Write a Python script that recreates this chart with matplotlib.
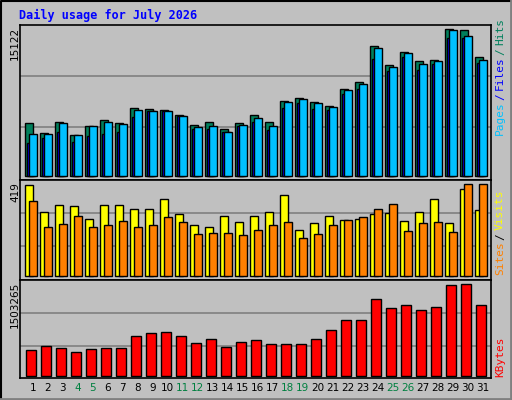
import matplotlib
matplotlib.use("Agg")
import matplotlib.pyplot as plt
from matplotlib.transforms import blended_transform_factory

days = list(range(1, 32))
weekend = [4, 5, 11, 12, 18, 19, 25, 26]
hits = [5432, 4402, 5535, 4195, 5123, 5742, 5432, 6979, 6875, 6772, 6257, 5226, 5535, 4814, 5432, 6257,
        5535, 7700, 8009, 7597, 7185, 8937, 9659, 13370, 11411, 12751, 11823, 11926, 15122, 15019, 12236]
files = [3402, 3917, 4536, 3505, 4123, 4329, 4536, 6051, 6669, 6669, 6154, 4814, 4814, 4505, 5123, 5535,
         4711, 6979, 7494, 6875, 6772, 8422, 8937, 12029, 10792, 12236, 10896, 11514, 14194, 14194, 11617]
pages = [4298, 4298, 5432, 4195, 5123, 5566, 5329, 6772, 6669, 6669, 6154, 5020, 5123, 4505, 5226, 5948,
         5185, 7597, 7906, 7494, 7082, 8834, 9452, 13163, 11205, 12648, 11514, 11823, 15019, 14400, 11926]
sites = [419, 293, 325, 321, 261, 325, 325, 307, 307, 353, 284, 233, 224, 275, 247, 275,
         293, 371, 210, 243, 275, 256, 261, 284, 289, 252, 293, 353, 243, 399, 302]
visits = [344, 224, 238, 275, 224, 233, 252, 224, 233, 270, 247, 192, 196, 196, 187, 210,
          233, 247, 173, 192, 233, 256, 270, 307, 330, 206, 243, 247, 201, 422, 422]
kbytes = [417000, 483000, 450000, 384000, 433000, 450000, 450000, 647000, 697000, 713000, 647000, 532000,
          598000, 466000, 549000, 582000, 516000, 516000, 516000, 598000, 746000, 911000, 911000, 1256000,
          1108000, 1158000, 1075000, 1125000, 1487000, 1503265, 1158000]
title = "Daily usage for July 2026"

BG = "#C0C0C0"
fig = plt.figure(figsize=(5.12, 4.0), dpi=100, facecolor=BG)
W, H = 512, 400

def ax_at(y0, y1):
    ax = fig.add_axes([20 / W, (H - y1) / H, 471 / W, (y1 - y0) / H])
    ax.set_facecolor(BG)
    ax.set_xlim(1 - 5.3 / 15, 1 + 465.7 / 15)
    ax.set_xticks([]); ax.set_yticks([])
    for s in ax.spines.values():
        s.set_color("black"); s.set_linewidth(1.2)
    return ax

kw = dict(align="edge", edgecolor="black", linewidth=1)

a1 = ax_at(25, 180)
s1 = 15122 / 146.7
a1.set_ylim(-4 * s1, 151 * s1)
for g in (49 * s1, 100 * s1):
    a1.axhline(g, color="#808080", lw=1.2, zorder=0)
a1.bar(days, hits, width=0.5, color="#00805C", **kw)
a1.bar([d + 2 / 15 for d in days], files, width=0.5, color="#0000FF", **kw)
a1.bar([d + 4 / 15 for d in days], pages, width=0.5, color="#00C0FF", **kw)

a2 = ax_at(180, 280)
s2 = 419 / 91
a2.set_ylim(-4 * s2, 96 * s2)
for g in (29.7 * s2, 62.7 * s2):
    a2.axhline(g, color="#808080", lw=1.2, zorder=0)
a2.bar(days, sites, width=8 / 15, color="#FFFF00", **kw)
a2.bar([d + 4 / 15 for d in days], visits, width=7.5 / 15, color="#FF8000", **kw)

a3 = ax_at(280, 378)
s3 = 1503265 / 91.3
a3.set_ylim(-2.3 * s3, 95.7 * s3)
for g in (29.7 * s3, 62.3 * s3):
    a3.axhline(g, color="#808080", lw=1.2, zorder=0)
a3.bar([d + 1 / 15 for d in days], kbytes, width=10 / 15, color="#FF0000", **kw)

tr = blended_transform_factory(a3.transData, fig.transFigure)
for d in days:
    a3.text(d + 0.5, (H - 388) / H, str(d), transform=tr, ha="center", va="center", fontsize=7.5,
            color="#008040" if d in weekend else "black")

mono = "DejaVu Sans Mono"
fig.text(19 / W, 1 - 15 / H, title, color="#0000FF", fontsize=8.5, fontweight="bold", family=mono,
         ha="left", va="center")

def ylab(txt, ypix):
    fig.text(15 / W, 1 - ypix / H, txt, rotation=90, ha="center", va="top", fontsize=7.5, family="DejaVu Sans")
ylab("15122", 27)
ylab("419", 182)
ylab("1503265", 282)

def rlab(parts, ybottom):
    y = ybottom
    for txt, col in parts:
        fig.text(500 / W, 1 - y / H, txt, rotation=90, ha="center", va="bottom", fontsize=8, family=mono, color=col)
        y -= len(txt) * 6.2 + 4

rlab([("Pages", "#00C0FF"), ("/", "#0000FF"), ("Files", "#0000FF"), ("/", "#00805C"), ("Hits", "#00805C")], 135)
rlab([("Sites", "#FF8000"), ("/", "#000000"), ("Visits", "#FFFF00")], 275)
rlab([("KBytes", "#FF0000")], 377)

fig.add_artist(plt.Line2D([0.5 / W, 0.5 / W, 1 - 0.5 / W], [0, 1 - 0.5 / H, 1 - 0.5 / H], color="black", lw=1.5))
fig.add_artist(plt.Line2D([0, 1 - 1 / W, 1 - 1 / W], [1 / H, 1 / H, 1], color="#808080", lw=2))

fig.savefig("out.png", dpi=100, facecolor=BG)
